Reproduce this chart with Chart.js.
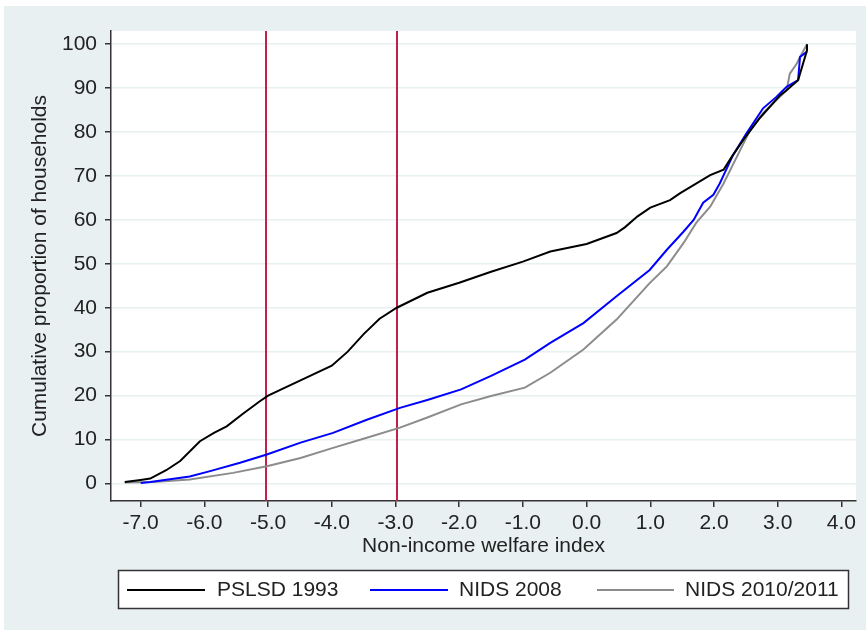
<!DOCTYPE html>
<html>
<head>
<meta charset="utf-8">
<script src="https://cdn.jsdelivr.net/npm/chart.js@4.4.1/dist/chart.umd.min.js"></script>
<style>
  html, body { margin: 0; padding: 0; background: #fff; }
  #wrap { width: 866px; height: 630px; }
</style>
</head>
<body>
<div id="wrap"><canvas id="c" width="866" height="630"></canvas></div>
<script>
// series names
const seriesNames = ["PSLSD 1993", "NIDS 2008", "NIDS 2010/2011"];

// PSLSD 1993
const pslsdX = [-7.25, -7.0, -6.85, -6.6, -6.38, -6.07, -5.85, -5.65, -5.4, -5.13, -5.0, -4.5, -4.0, -3.75, -3.5, -3.25, -2.98, -2.5, -2.0, -1.5, -1.0, -0.57, 0.0, 0.47, 0.6, 0.8, 1.0, 1.31, 1.47, 1.94, 2.15, 2.28, 2.46, 2.72, 3.04, 3.14, 3.32, 3.46, 3.46];
const pslsdY = [0.3, 0.8, 1.1, 3.0, 5.1, 9.6, 11.5, 13.0, 15.8, 18.7, 20.0, 23.4, 26.8, 30.0, 34.0, 37.5, 40.0, 43.4, 45.7, 48.2, 50.5, 52.8, 54.5, 57.0, 58.3, 60.8, 62.8, 64.5, 66.1, 70.2, 71.4, 74.4, 78.2, 83.2, 88.4, 89.5, 91.8, 98.6, 100];

// NIDS 2008
const nids08X = [-7.0, -6.85, -6.23, -5.91, -5.44, -5.02, -4.49, -3.98, -3.45, -2.93, -2.5, -1.97, -1.5, -0.97, -0.57, -0.05, 0.47, 0.99, 1.26, 1.52, 1.68, 1.83, 1.99, 2.09, 2.30, 2.51, 2.77, 2.98, 3.14, 3.32, 3.35, 3.46];
const nids08Y = [0.1, 0.3, 1.6, 2.8, 4.7, 6.6, 9.3, 11.5, 14.5, 17.2, 19.0, 21.4, 24.5, 28.2, 32.0, 36.5, 42.6, 48.6, 53.2, 57.3, 60.0, 63.9, 65.7, 68.3, 74.8, 79.7, 85.4, 88.0, 90.3, 91.8, 97.1, 98.3];

// NIDS 2010/2011
const nids10X = [-7.25, -6.8, -6.23, -5.55, -5.02, -4.49, -3.98, -3.45, -2.93, -2.5, -1.97, -1.5, -0.97, -0.57, -0.05, 0.47, 0.99, 1.26, 1.52, 1.72, 1.94, 2.15, 2.36, 2.57, 2.77, 2.98, 3.14, 3.19, 3.30, 3.35, 3.46];
const nids10Y = [0.2, 0.3, 0.9, 2.4, 3.9, 5.8, 8.1, 10.4, 12.7, 15.0, 18.0, 19.9, 21.8, 25.2, 30.5, 37.3, 45.6, 49.4, 54.7, 59.3, 63.0, 68.3, 74.4, 80.5, 84.3, 87.3, 89.5, 93.3, 95.6, 97.1, 100];

// vertical reference lines
const cutoffs = [-5.04, -2.98];

// tick labels
const xTicks = [-7, -6, -5, -4, -3, -2, -1, 0, 1, 2, 3, 4];
const yTicks = [0, 10, 20, 30, 40, 50, 60, 70, 80, 90, 100];

const FONT = "'Liberation Sans', Arial, sans-serif";
const pts = (xs, ys) => xs.map((x, i) => ({ x: x, y: ys[i] }));

const bgPlugin = {
  id: "bg",
  beforeDraw(chart) {
    const { ctx, chartArea: a } = chart;
    ctx.save();
    ctx.fillStyle = "#ffffff";
    ctx.fillRect(0, 0, 866, 630);
    ctx.fillStyle = "#e8f0f2";
    ctx.fillRect(4, 6, 862, 624);
    ctx.fillStyle = "#ffffff";
    ctx.fillRect(a.left, a.top, a.right - a.left, a.bottom - a.top);
    ctx.restore();
  },
  beforeDatasetsDraw(chart) {
    const { ctx, chartArea: a, scales } = chart;
    ctx.save();
    ctx.strokeStyle = "#c0204a";
    ctx.lineWidth = 2;
    cutoffs.forEach(v => {
      const px = Math.round(scales.x.getPixelForValue(v));
      ctx.beginPath();
      ctx.moveTo(px, a.top);
      ctx.lineTo(px, a.bottom);
      ctx.stroke();
    });
    ctx.restore();
  },
  afterDraw(chart) {
    const { ctx, chartArea: a } = chart;
    ctx.save();
    ctx.fillStyle = "#222";
    ctx.font = "21px " + FONT;
    ctx.textAlign = "center";
    ctx.textBaseline = "middle";
    ctx.fillText("Non-income welfare index", (a.left + a.right) / 2, 546);
    ctx.translate(40, (a.top + a.bottom) / 2);
    ctx.rotate(-Math.PI / 2);
    ctx.fillText("Cumulative proportion of households", 0, 0);
    ctx.restore();

    // legend
    ctx.save();
    ctx.fillStyle = "#ffffff";
    ctx.fillRect(118, 570, 731, 39);
    ctx.strokeStyle = "#333";
    ctx.lineWidth = 1.5;
    ctx.strokeRect(118.5, 570.5, 730, 38);
    const entries = [[127, 205, 217], [370, 448, 459], [597, 674, 685]];
    ctx.font = "21px " + FONT;
    ctx.textBaseline = "middle";
    ctx.textAlign = "left";
    chart.data.datasets.forEach((ds, i) => {
      const [x0, x1, tx] = entries[i];
      ctx.strokeStyle = ds.borderColor;
      ctx.lineWidth = 2;
      ctx.beginPath();
      ctx.moveTo(x0, 590);
      ctx.lineTo(x1, 590);
      ctx.stroke();
      ctx.fillStyle = "#222";
      ctx.fillText(ds.label, tx, 590);
    });
    ctx.restore();
  }
};

new Chart(document.getElementById("c"), {
  type: "scatter",
  data: {
    datasets: [
      { label: seriesNames[0], data: pts(pslsdX, pslsdY), borderColor: "#000000" },
      { label: seriesNames[1], data: pts(nids08X, nids08Y), borderColor: "#0000ff" },
      { label: seriesNames[2], data: pts(nids10X, nids10Y), borderColor: "#8c8c8c" }
    ].map(d => Object.assign(d, { showLine: true, pointRadius: 0, borderWidth: 2, tension: 0, fill: false }))
  },
  options: {
    responsive: false,
    animation: false,
    devicePixelRatio: 1,
    layout: { padding: { top: 31, right: 10, left: 0, bottom: 0 } },
    plugins: { legend: { display: false }, tooltip: { enabled: false } },
    scales: {
      x: {
        type: "linear",
        min: -7.466,
        max: 4.229,
        afterFit: s => { s.height = 129; },
        afterBuildTicks: s => { s.ticks = xTicks.map(v => ({ value: v })); },
        grid: { drawOnChartArea: false, tickLength: 6, tickColor: "#333", lineWidth: 1.5 },
        border: { color: "#333", width: 1.5 },
        ticks: { callback: v => v.toFixed(1), color: "#222", font: { size: 21, family: FONT }, padding: 4, maxRotation: 0, autoSkip: false }
      },
      y: {
        type: "linear",
        min: -4,
        max: 103,
        afterFit: s => { s.width = 111; },
        afterBuildTicks: s => { s.ticks = yTicks.map(v => ({ value: v })); },
        grid: { color: "#e8f0f2", lineWidth: 1.5, tickLength: 6, tickColor: "#333" },
        border: { color: "#333", width: 1.5 },
        ticks: { callback: v => String(v), color: "#222", font: { size: 21, family: FONT }, padding: 8 }
      }
    }
  },
  plugins: [bgPlugin]
});
</script>
</body>
</html>
